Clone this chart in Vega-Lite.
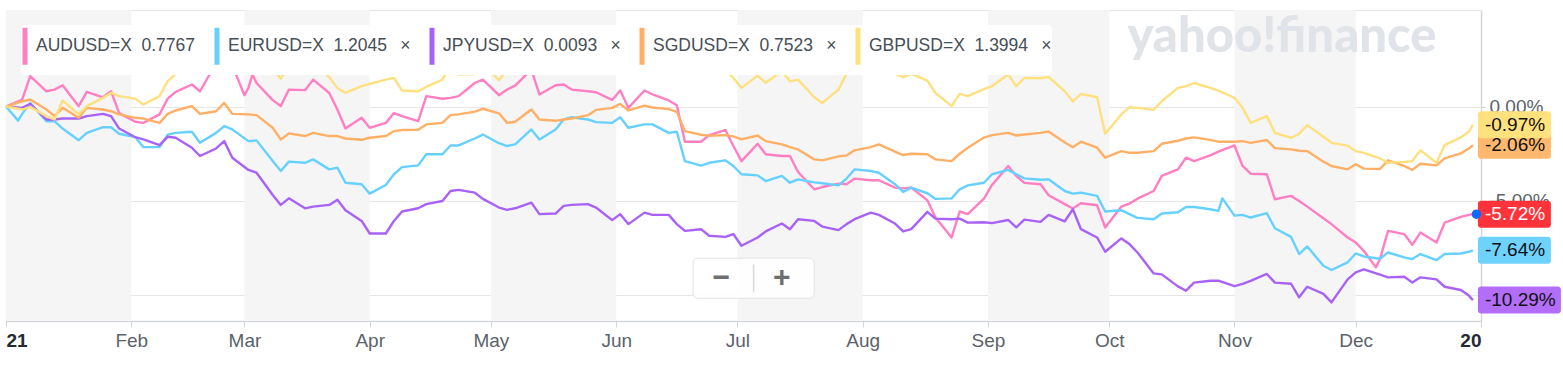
{
"$schema": "https://vega.github.io/schema/vega-lite/v6.json",
"width": 1475,
"height": 311,
"autosize": {"type": "none"},
"padding": {"left": 6, "top": 10, "right": 82, "bottom": 45},
"background": "#ffffff",
"config": {"view": {"stroke": "#e4e4e4"}, "font": "Liberation Sans", "legend": {"padding": 0}},
"datasets": {
"months": [
{"start": "2021-01-01", "end": "2021-02-01"},
{"start": "2021-03-01", "end": "2021-04-01"},
{"start": "2021-05-01", "end": "2021-06-01"},
{"start": "2021-07-01", "end": "2021-08-01"},
{"start": "2021-09-01", "end": "2021-10-01"},
{"start": "2021-11-01", "end": "2021-12-01"}
],
"fx": [
{"date":"2021-01-01","pair":"AUDUSD=X","pct":0},
{"date":"2021-01-05","pair":"AUDUSD=X","pct":0.37},
{"date":"2021-01-07","pair":"AUDUSD=X","pct":1.61},
{"date":"2021-01-11","pair":"AUDUSD=X","pct":0.81},
{"date":"2021-01-13","pair":"AUDUSD=X","pct":0.90},
{"date":"2021-01-15","pair":"AUDUSD=X","pct":1.13},
{"date":"2021-01-19","pair":"AUDUSD=X","pct":0.02},
{"date":"2021-01-21","pair":"AUDUSD=X","pct":0.78},
{"date":"2021-01-25","pair":"AUDUSD=X","pct":0.49},
{"date":"2021-01-27","pair":"AUDUSD=X","pct":0.81},
{"date":"2021-01-29","pair":"AUDUSD=X","pct":-0.35},
{"date":"2021-02-02","pair":"AUDUSD=X","pct":-0.81},
{"date":"2021-02-04","pair":"AUDUSD=X","pct":-0.87},
{"date":"2021-02-08","pair":"AUDUSD=X","pct":-0.42},
{"date":"2021-02-10","pair":"AUDUSD=X","pct":0.42},
{"date":"2021-02-12","pair":"AUDUSD=X","pct":0.78},
{"date":"2021-02-16","pair":"AUDUSD=X","pct":1.17},
{"date":"2021-02-18","pair":"AUDUSD=X","pct":0.81},
{"date":"2021-02-22","pair":"AUDUSD=X","pct":2.31},
{"date":"2021-02-24","pair":"AUDUSD=X","pct":3.2},
{"date":"2021-02-25","pair":"AUDUSD=X","pct":3.6},
{"date":"2021-02-26","pair":"AUDUSD=X","pct":2.2},
{"date":"2021-03-01","pair":"AUDUSD=X","pct":0.6},
{"date":"2021-03-02","pair":"AUDUSD=X","pct":1.0},
{"date":"2021-03-03","pair":"AUDUSD=X","pct":1.7},
{"date":"2021-03-04","pair":"AUDUSD=X","pct":1.25},
{"date":"2021-03-08","pair":"AUDUSD=X","pct":0.34},
{"date":"2021-03-10","pair":"AUDUSD=X","pct":0.02},
{"date":"2021-03-12","pair":"AUDUSD=X","pct":0.90},
{"date":"2021-03-16","pair":"AUDUSD=X","pct":0.87},
{"date":"2021-03-18","pair":"AUDUSD=X","pct":1.43},
{"date":"2021-03-22","pair":"AUDUSD=X","pct":0.72},
{"date":"2021-03-24","pair":"AUDUSD=X","pct":-0.16},
{"date":"2021-03-26","pair":"AUDUSD=X","pct":-1.17},
{"date":"2021-03-30","pair":"AUDUSD=X","pct":-0.60},
{"date":"2021-04-01","pair":"AUDUSD=X","pct":-1.13},
{"date":"2021-04-05","pair":"AUDUSD=X","pct":-0.87},
{"date":"2021-04-07","pair":"AUDUSD=X","pct":-0.35},
{"date":"2021-04-09","pair":"AUDUSD=X","pct":-0.51},
{"date":"2021-04-13","pair":"AUDUSD=X","pct":-0.78},
{"date":"2021-04-15","pair":"AUDUSD=X","pct":0.55},
{"date":"2021-04-19","pair":"AUDUSD=X","pct":0.41},
{"date":"2021-04-21","pair":"AUDUSD=X","pct":0.46},
{"date":"2021-04-23","pair":"AUDUSD=X","pct":0.55},
{"date":"2021-04-27","pair":"AUDUSD=X","pct":1.25},
{"date":"2021-04-29","pair":"AUDUSD=X","pct":1.43},
{"date":"2021-05-03","pair":"AUDUSD=X","pct":0.6},
{"date":"2021-05-05","pair":"AUDUSD=X","pct":0.90},
{"date":"2021-05-07","pair":"AUDUSD=X","pct":1.11},
{"date":"2021-05-11","pair":"AUDUSD=X","pct":1.96},
{"date":"2021-05-13","pair":"AUDUSD=X","pct":0.64},
{"date":"2021-05-17","pair":"AUDUSD=X","pct":1.13},
{"date":"2021-05-19","pair":"AUDUSD=X","pct":1.17},
{"date":"2021-05-21","pair":"AUDUSD=X","pct":0.90},
{"date":"2021-05-25","pair":"AUDUSD=X","pct":0.81},
{"date":"2021-05-27","pair":"AUDUSD=X","pct":0.76},
{"date":"2021-05-31","pair":"AUDUSD=X","pct":0.35},
{"date":"2021-06-02","pair":"AUDUSD=X","pct":0.85},
{"date":"2021-06-04","pair":"AUDUSD=X","pct":-0.07},
{"date":"2021-06-08","pair":"AUDUSD=X","pct":0.85},
{"date":"2021-06-10","pair":"AUDUSD=X","pct":0.64},
{"date":"2021-06-14","pair":"AUDUSD=X","pct":0.32},
{"date":"2021-06-16","pair":"AUDUSD=X","pct":0.07},
{"date":"2021-06-18","pair":"AUDUSD=X","pct":-1.87},
{"date":"2021-06-22","pair":"AUDUSD=X","pct":-1.87},
{"date":"2021-06-24","pair":"AUDUSD=X","pct":-1.52},
{"date":"2021-06-28","pair":"AUDUSD=X","pct":-1.25},
{"date":"2021-06-30","pair":"AUDUSD=X","pct":-2.10},
{"date":"2021-07-02","pair":"AUDUSD=X","pct":-2.90},
{"date":"2021-07-06","pair":"AUDUSD=X","pct":-1.98},
{"date":"2021-07-08","pair":"AUDUSD=X","pct":-2.54},
{"date":"2021-07-12","pair":"AUDUSD=X","pct":-2.63},
{"date":"2021-07-14","pair":"AUDUSD=X","pct":-2.63},
{"date":"2021-07-16","pair":"AUDUSD=X","pct":-3.48},
{"date":"2021-07-20","pair":"AUDUSD=X","pct":-4.40},
{"date":"2021-07-22","pair":"AUDUSD=X","pct":-4.28},
{"date":"2021-07-26","pair":"AUDUSD=X","pct":-4.10},
{"date":"2021-07-28","pair":"AUDUSD=X","pct":-4.13},
{"date":"2021-07-30","pair":"AUDUSD=X","pct":-3.83},
{"date":"2021-08-03","pair":"AUDUSD=X","pct":-3.92},
{"date":"2021-08-05","pair":"AUDUSD=X","pct":-3.92},
{"date":"2021-08-09","pair":"AUDUSD=X","pct":-4.31},
{"date":"2021-08-11","pair":"AUDUSD=X","pct":-4.35},
{"date":"2021-08-13","pair":"AUDUSD=X","pct":-4.31},
{"date":"2021-08-17","pair":"AUDUSD=X","pct":-4.98},
{"date":"2021-08-19","pair":"AUDUSD=X","pct":-5.9},
{"date":"2021-08-23","pair":"AUDUSD=X","pct":-6.96},
{"date":"2021-08-25","pair":"AUDUSD=X","pct":-5.58},
{"date":"2021-08-27","pair":"AUDUSD=X","pct":-5.72},
{"date":"2021-08-31","pair":"AUDUSD=X","pct":-4.9},
{"date":"2021-09-02","pair":"AUDUSD=X","pct":-4.17},
{"date":"2021-09-06","pair":"AUDUSD=X","pct":-3.16},
{"date":"2021-09-08","pair":"AUDUSD=X","pct":-3.69},
{"date":"2021-09-10","pair":"AUDUSD=X","pct":-4.06},
{"date":"2021-09-14","pair":"AUDUSD=X","pct":-4.13},
{"date":"2021-09-16","pair":"AUDUSD=X","pct":-4.72},
{"date":"2021-09-20","pair":"AUDUSD=X","pct":-5.19},
{"date":"2021-09-22","pair":"AUDUSD=X","pct":-5.42},
{"date":"2021-09-24","pair":"AUDUSD=X","pct":-5.14},
{"date":"2021-09-28","pair":"AUDUSD=X","pct":-5.25},
{"date":"2021-09-30","pair":"AUDUSD=X","pct":-6.43},
{"date":"2021-10-04","pair":"AUDUSD=X","pct":-5.32},
{"date":"2021-10-06","pair":"AUDUSD=X","pct":-5.16},
{"date":"2021-10-08","pair":"AUDUSD=X","pct":-4.90},
{"date":"2021-10-12","pair":"AUDUSD=X","pct":-4.49},
{"date":"2021-10-14","pair":"AUDUSD=X","pct":-3.69},
{"date":"2021-10-18","pair":"AUDUSD=X","pct":-3.34},
{"date":"2021-10-20","pair":"AUDUSD=X","pct":-2.72},
{"date":"2021-10-22","pair":"AUDUSD=X","pct":-2.90},
{"date":"2021-10-26","pair":"AUDUSD=X","pct":-2.60},
{"date":"2021-10-28","pair":"AUDUSD=X","pct":-2.40},
{"date":"2021-11-01","pair":"AUDUSD=X","pct":-2.07},
{"date":"2021-11-03","pair":"AUDUSD=X","pct":-3.16},
{"date":"2021-11-05","pair":"AUDUSD=X","pct":-3.57},
{"date":"2021-11-09","pair":"AUDUSD=X","pct":-3.60},
{"date":"2021-11-11","pair":"AUDUSD=X","pct":-4.93},
{"date":"2021-11-15","pair":"AUDUSD=X","pct":-4.75},
{"date":"2021-11-17","pair":"AUDUSD=X","pct":-5.02},
{"date":"2021-11-19","pair":"AUDUSD=X","pct":-5.32},
{"date":"2021-11-23","pair":"AUDUSD=X","pct":-5.94},
{"date":"2021-11-25","pair":"AUDUSD=X","pct":-6.25},
{"date":"2021-11-29","pair":"AUDUSD=X","pct":-6.96},
{"date":"2021-12-01","pair":"AUDUSD=X","pct":-7.23},
{"date":"2021-12-03","pair":"AUDUSD=X","pct":-7.67},
{"date":"2021-12-06","pair":"AUDUSD=X","pct":-8.55},
{"date":"2021-12-07","pair":"AUDUSD=X","pct":-8.11},
{"date":"2021-12-09","pair":"AUDUSD=X","pct":-6.61},
{"date":"2021-12-13","pair":"AUDUSD=X","pct":-6.78},
{"date":"2021-12-15","pair":"AUDUSD=X","pct":-7.35},
{"date":"2021-12-17","pair":"AUDUSD=X","pct":-6.70},
{"date":"2021-12-21","pair":"AUDUSD=X","pct":-7.23},
{"date":"2021-12-23","pair":"AUDUSD=X","pct":-6.17},
{"date":"2021-12-27","pair":"AUDUSD=X","pct":-5.87},
{"date":"2021-12-29","pair":"AUDUSD=X","pct":-5.76},
{"date":"2021-12-30","pair":"AUDUSD=X","pct":-5.72},
{"date":"2021-01-01","pair":"EURUSD=X","pct":0},
{"date":"2021-01-04","pair":"EURUSD=X","pct":-0.75},
{"date":"2021-01-05","pair":"EURUSD=X","pct":-0.39},
{"date":"2021-01-07","pair":"EURUSD=X","pct":0.19},
{"date":"2021-01-11","pair":"EURUSD=X","pct":-0.78},
{"date":"2021-01-13","pair":"EURUSD=X","pct":-0.78},
{"date":"2021-01-15","pair":"EURUSD=X","pct":-1.17},
{"date":"2021-01-19","pair":"EURUSD=X","pct":-1.79},
{"date":"2021-01-21","pair":"EURUSD=X","pct":-1.40},
{"date":"2021-01-25","pair":"EURUSD=X","pct":-1.10},
{"date":"2021-01-27","pair":"EURUSD=X","pct":-1.10},
{"date":"2021-01-29","pair":"EURUSD=X","pct":-1.45},
{"date":"2021-02-02","pair":"EURUSD=X","pct":-1.63},
{"date":"2021-02-04","pair":"EURUSD=X","pct":-2.16},
{"date":"2021-02-08","pair":"EURUSD=X","pct":-2.16},
{"date":"2021-02-10","pair":"EURUSD=X","pct":-1.49},
{"date":"2021-02-12","pair":"EURUSD=X","pct":-1.40},
{"date":"2021-02-16","pair":"EURUSD=X","pct":-1.34},
{"date":"2021-02-18","pair":"EURUSD=X","pct":-1.93},
{"date":"2021-02-22","pair":"EURUSD=X","pct":-1.40},
{"date":"2021-02-24","pair":"EURUSD=X","pct":-1.04},
{"date":"2021-02-26","pair":"EURUSD=X","pct":-1.22},
{"date":"2021-03-02","pair":"EURUSD=X","pct":-1.84},
{"date":"2021-03-04","pair":"EURUSD=X","pct":-1.80},
{"date":"2021-03-08","pair":"EURUSD=X","pct":-2.90},
{"date":"2021-03-10","pair":"EURUSD=X","pct":-3.43},
{"date":"2021-03-12","pair":"EURUSD=X","pct":-2.93},
{"date":"2021-03-16","pair":"EURUSD=X","pct":-2.99},
{"date":"2021-03-18","pair":"EURUSD=X","pct":-2.81},
{"date":"2021-03-22","pair":"EURUSD=X","pct":-3.34},
{"date":"2021-03-24","pair":"EURUSD=X","pct":-3.25},
{"date":"2021-03-26","pair":"EURUSD=X","pct":-4.05},
{"date":"2021-03-30","pair":"EURUSD=X","pct":-4.13},
{"date":"2021-04-01","pair":"EURUSD=X","pct":-4.63},
{"date":"2021-04-05","pair":"EURUSD=X","pct":-4.17},
{"date":"2021-04-07","pair":"EURUSD=X","pct":-3.60},
{"date":"2021-04-09","pair":"EURUSD=X","pct":-3.22},
{"date":"2021-04-13","pair":"EURUSD=X","pct":-3.13},
{"date":"2021-04-15","pair":"EURUSD=X","pct":-2.54},
{"date":"2021-04-19","pair":"EURUSD=X","pct":-2.54},
{"date":"2021-04-21","pair":"EURUSD=X","pct":-2.07},
{"date":"2021-04-23","pair":"EURUSD=X","pct":-2.07},
{"date":"2021-04-27","pair":"EURUSD=X","pct":-1.70},
{"date":"2021-04-29","pair":"EURUSD=X","pct":-1.49},
{"date":"2021-05-03","pair":"EURUSD=X","pct":-1.95},
{"date":"2021-05-05","pair":"EURUSD=X","pct":-2.10},
{"date":"2021-05-07","pair":"EURUSD=X","pct":-2.01},
{"date":"2021-05-11","pair":"EURUSD=X","pct":-1.22},
{"date":"2021-05-13","pair":"EURUSD=X","pct":-1.75},
{"date":"2021-05-17","pair":"EURUSD=X","pct":-1.22},
{"date":"2021-05-19","pair":"EURUSD=X","pct":-0.69},
{"date":"2021-05-21","pair":"EURUSD=X","pct":-0.57},
{"date":"2021-05-25","pair":"EURUSD=X","pct":-0.69},
{"date":"2021-05-27","pair":"EURUSD=X","pct":-0.83},
{"date":"2021-05-31","pair":"EURUSD=X","pct":-0.87},
{"date":"2021-06-02","pair":"EURUSD=X","pct":-0.57},
{"date":"2021-06-04","pair":"EURUSD=X","pct":-1.13},
{"date":"2021-06-08","pair":"EURUSD=X","pct":-0.95},
{"date":"2021-06-10","pair":"EURUSD=X","pct":-0.95},
{"date":"2021-06-14","pair":"EURUSD=X","pct":-1.40},
{"date":"2021-06-16","pair":"EURUSD=X","pct":-1.34},
{"date":"2021-06-18","pair":"EURUSD=X","pct":-2.90},
{"date":"2021-06-22","pair":"EURUSD=X","pct":-3.14},
{"date":"2021-06-24","pair":"EURUSD=X","pct":-2.99},
{"date":"2021-06-28","pair":"EURUSD=X","pct":-2.86},
{"date":"2021-06-30","pair":"EURUSD=X","pct":-3.16},
{"date":"2021-07-02","pair":"EURUSD=X","pct":-3.60},
{"date":"2021-07-06","pair":"EURUSD=X","pct":-3.66},
{"date":"2021-07-08","pair":"EURUSD=X","pct":-3.96},
{"date":"2021-07-12","pair":"EURUSD=X","pct":-3.69},
{"date":"2021-07-14","pair":"EURUSD=X","pct":-4.05},
{"date":"2021-07-16","pair":"EURUSD=X","pct":-3.87},
{"date":"2021-07-20","pair":"EURUSD=X","pct":-4.03},
{"date":"2021-07-22","pair":"EURUSD=X","pct":-4.08},
{"date":"2021-07-26","pair":"EURUSD=X","pct":-4.19},
{"date":"2021-07-28","pair":"EURUSD=X","pct":-3.83},
{"date":"2021-07-30","pair":"EURUSD=X","pct":-3.34},
{"date":"2021-08-03","pair":"EURUSD=X","pct":-3.43},
{"date":"2021-08-05","pair":"EURUSD=X","pct":-3.52},
{"date":"2021-08-09","pair":"EURUSD=X","pct":-4.13},
{"date":"2021-08-11","pair":"EURUSD=X","pct":-4.54},
{"date":"2021-08-13","pair":"EURUSD=X","pct":-4.31},
{"date":"2021-08-17","pair":"EURUSD=X","pct":-4.61},
{"date":"2021-08-19","pair":"EURUSD=X","pct":-4.91},
{"date":"2021-08-23","pair":"EURUSD=X","pct":-4.88},
{"date":"2021-08-25","pair":"EURUSD=X","pct":-4.40},
{"date":"2021-08-27","pair":"EURUSD=X","pct":-4.19},
{"date":"2021-08-31","pair":"EURUSD=X","pct":-4.05},
{"date":"2021-09-02","pair":"EURUSD=X","pct":-3.60},
{"date":"2021-09-06","pair":"EURUSD=X","pct":-3.37},
{"date":"2021-09-08","pair":"EURUSD=X","pct":-3.60},
{"date":"2021-09-10","pair":"EURUSD=X","pct":-3.82},
{"date":"2021-09-14","pair":"EURUSD=X","pct":-3.89},
{"date":"2021-09-16","pair":"EURUSD=X","pct":-3.87},
{"date":"2021-09-20","pair":"EURUSD=X","pct":-4.49},
{"date":"2021-09-22","pair":"EURUSD=X","pct":-4.63},
{"date":"2021-09-24","pair":"EURUSD=X","pct":-4.58},
{"date":"2021-09-28","pair":"EURUSD=X","pct":-4.75},
{"date":"2021-09-30","pair":"EURUSD=X","pct":-5.58},
{"date":"2021-10-04","pair":"EURUSD=X","pct":-5.51},
{"date":"2021-10-06","pair":"EURUSD=X","pct":-5.72},
{"date":"2021-10-08","pair":"EURUSD=X","pct":-5.92},
{"date":"2021-10-12","pair":"EURUSD=X","pct":-5.99},
{"date":"2021-10-14","pair":"EURUSD=X","pct":-5.69},
{"date":"2021-10-18","pair":"EURUSD=X","pct":-5.62},
{"date":"2021-10-20","pair":"EURUSD=X","pct":-5.34},
{"date":"2021-10-22","pair":"EURUSD=X","pct":-5.34},
{"date":"2021-10-26","pair":"EURUSD=X","pct":-5.46},
{"date":"2021-10-28","pair":"EURUSD=X","pct":-5.55},
{"date":"2021-10-29","pair":"EURUSD=X","pct":-4.88},
{"date":"2021-11-01","pair":"EURUSD=X","pct":-5.80},
{"date":"2021-11-03","pair":"EURUSD=X","pct":-5.76},
{"date":"2021-11-05","pair":"EURUSD=X","pct":-5.90},
{"date":"2021-11-09","pair":"EURUSD=X","pct":-5.67},
{"date":"2021-11-11","pair":"EURUSD=X","pct":-6.47},
{"date":"2021-11-15","pair":"EURUSD=X","pct":-6.93},
{"date":"2021-11-17","pair":"EURUSD=X","pct":-7.84},
{"date":"2021-11-19","pair":"EURUSD=X","pct":-7.44},
{"date":"2021-11-23","pair":"EURUSD=X","pct":-8.46},
{"date":"2021-11-25","pair":"EURUSD=X","pct":-8.69},
{"date":"2021-11-29","pair":"EURUSD=X","pct":-8.28},
{"date":"2021-12-01","pair":"EURUSD=X","pct":-7.81},
{"date":"2021-12-03","pair":"EURUSD=X","pct":-7.97},
{"date":"2021-12-07","pair":"EURUSD=X","pct":-8.09},
{"date":"2021-12-09","pair":"EURUSD=X","pct":-7.76},
{"date":"2021-12-13","pair":"EURUSD=X","pct":-8.02},
{"date":"2021-12-15","pair":"EURUSD=X","pct":-8.11},
{"date":"2021-12-17","pair":"EURUSD=X","pct":-7.84},
{"date":"2021-12-21","pair":"EURUSD=X","pct":-8.16},
{"date":"2021-12-23","pair":"EURUSD=X","pct":-7.84},
{"date":"2021-12-27","pair":"EURUSD=X","pct":-7.81},
{"date":"2021-12-29","pair":"EURUSD=X","pct":-7.72},
{"date":"2021-12-30","pair":"EURUSD=X","pct":-7.64},
{"date":"2021-01-01","pair":"JPYUSD=X","pct":0},
{"date":"2021-01-05","pair":"JPYUSD=X","pct":-0.07},
{"date":"2021-01-07","pair":"JPYUSD=X","pct":0.14},
{"date":"2021-01-11","pair":"JPYUSD=X","pct":-0.69},
{"date":"2021-01-13","pair":"JPYUSD=X","pct":-0.69},
{"date":"2021-01-15","pair":"JPYUSD=X","pct":-0.64},
{"date":"2021-01-19","pair":"JPYUSD=X","pct":-0.64},
{"date":"2021-01-21","pair":"JPYUSD=X","pct":-0.51},
{"date":"2021-01-25","pair":"JPYUSD=X","pct":-0.39},
{"date":"2021-01-27","pair":"JPYUSD=X","pct":-0.51},
{"date":"2021-01-29","pair":"JPYUSD=X","pct":-1.17},
{"date":"2021-02-02","pair":"JPYUSD=X","pct":-1.63},
{"date":"2021-02-04","pair":"JPYUSD=X","pct":-1.75},
{"date":"2021-02-08","pair":"JPYUSD=X","pct":-2.05},
{"date":"2021-02-10","pair":"JPYUSD=X","pct":-1.61},
{"date":"2021-02-12","pair":"JPYUSD=X","pct":-1.66},
{"date":"2021-02-16","pair":"JPYUSD=X","pct":-2.19},
{"date":"2021-02-18","pair":"JPYUSD=X","pct":-2.63},
{"date":"2021-02-22","pair":"JPYUSD=X","pct":-2.23},
{"date":"2021-02-24","pair":"JPYUSD=X","pct":-1.84},
{"date":"2021-02-26","pair":"JPYUSD=X","pct":-2.72},
{"date":"2021-03-02","pair":"JPYUSD=X","pct":-3.37},
{"date":"2021-03-04","pair":"JPYUSD=X","pct":-3.52},
{"date":"2021-03-08","pair":"JPYUSD=X","pct":-4.70},
{"date":"2021-03-10","pair":"JPYUSD=X","pct":-5.23},
{"date":"2021-03-12","pair":"JPYUSD=X","pct":-4.88},
{"date":"2021-03-16","pair":"JPYUSD=X","pct":-5.41},
{"date":"2021-03-18","pair":"JPYUSD=X","pct":-5.32},
{"date":"2021-03-22","pair":"JPYUSD=X","pct":-5.23},
{"date":"2021-03-24","pair":"JPYUSD=X","pct":-4.96},
{"date":"2021-03-26","pair":"JPYUSD=X","pct":-5.51},
{"date":"2021-03-30","pair":"JPYUSD=X","pct":-6.08},
{"date":"2021-04-01","pair":"JPYUSD=X","pct":-6.75},
{"date":"2021-04-05","pair":"JPYUSD=X","pct":-6.75},
{"date":"2021-04-07","pair":"JPYUSD=X","pct":-6.08},
{"date":"2021-04-09","pair":"JPYUSD=X","pct":-5.58},
{"date":"2021-04-13","pair":"JPYUSD=X","pct":-5.41},
{"date":"2021-04-15","pair":"JPYUSD=X","pct":-5.19},
{"date":"2021-04-19","pair":"JPYUSD=X","pct":-5.02},
{"date":"2021-04-21","pair":"JPYUSD=X","pct":-4.49},
{"date":"2021-04-23","pair":"JPYUSD=X","pct":-4.43},
{"date":"2021-04-27","pair":"JPYUSD=X","pct":-4.58},
{"date":"2021-04-29","pair":"JPYUSD=X","pct":-4.91},
{"date":"2021-05-03","pair":"JPYUSD=X","pct":-5.37},
{"date":"2021-05-05","pair":"JPYUSD=X","pct":-5.49},
{"date":"2021-05-07","pair":"JPYUSD=X","pct":-5.41},
{"date":"2021-05-11","pair":"JPYUSD=X","pct":-5.11},
{"date":"2021-05-13","pair":"JPYUSD=X","pct":-5.72},
{"date":"2021-05-17","pair":"JPYUSD=X","pct":-5.69},
{"date":"2021-05-19","pair":"JPYUSD=X","pct":-5.28},
{"date":"2021-05-21","pair":"JPYUSD=X","pct":-5.23},
{"date":"2021-05-25","pair":"JPYUSD=X","pct":-5.19},
{"date":"2021-05-27","pair":"JPYUSD=X","pct":-5.37},
{"date":"2021-05-31","pair":"JPYUSD=X","pct":-6.04},
{"date":"2021-06-02","pair":"JPYUSD=X","pct":-5.72},
{"date":"2021-06-04","pair":"JPYUSD=X","pct":-6.25},
{"date":"2021-06-08","pair":"JPYUSD=X","pct":-5.64},
{"date":"2021-06-10","pair":"JPYUSD=X","pct":-5.76},
{"date":"2021-06-14","pair":"JPYUSD=X","pct":-5.76},
{"date":"2021-06-16","pair":"JPYUSD=X","pct":-6.25},
{"date":"2021-06-18","pair":"JPYUSD=X","pct":-6.61},
{"date":"2021-06-22","pair":"JPYUSD=X","pct":-6.52},
{"date":"2021-06-24","pair":"JPYUSD=X","pct":-6.87},
{"date":"2021-06-28","pair":"JPYUSD=X","pct":-6.93},
{"date":"2021-06-30","pair":"JPYUSD=X","pct":-6.78},
{"date":"2021-07-02","pair":"JPYUSD=X","pct":-7.40},
{"date":"2021-07-06","pair":"JPYUSD=X","pct":-6.96},
{"date":"2021-07-08","pair":"JPYUSD=X","pct":-6.64},
{"date":"2021-07-12","pair":"JPYUSD=X","pct":-6.22},
{"date":"2021-07-14","pair":"JPYUSD=X","pct":-6.52},
{"date":"2021-07-16","pair":"JPYUSD=X","pct":-5.99},
{"date":"2021-07-20","pair":"JPYUSD=X","pct":-6.08},
{"date":"2021-07-22","pair":"JPYUSD=X","pct":-6.38},
{"date":"2021-07-26","pair":"JPYUSD=X","pct":-6.57},
{"date":"2021-07-28","pair":"JPYUSD=X","pct":-6.25},
{"date":"2021-07-30","pair":"JPYUSD=X","pct":-5.99},
{"date":"2021-08-03","pair":"JPYUSD=X","pct":-5.64},
{"date":"2021-08-05","pair":"JPYUSD=X","pct":-5.76},
{"date":"2021-08-09","pair":"JPYUSD=X","pct":-6.22},
{"date":"2021-08-11","pair":"JPYUSD=X","pct":-6.64},
{"date":"2021-08-13","pair":"JPYUSD=X","pct":-6.52},
{"date":"2021-08-17","pair":"JPYUSD=X","pct":-5.60},
{"date":"2021-08-19","pair":"JPYUSD=X","pct":-5.96},
{"date":"2021-08-23","pair":"JPYUSD=X","pct":-5.99},
{"date":"2021-08-25","pair":"JPYUSD=X","pct":-5.96},
{"date":"2021-08-27","pair":"JPYUSD=X","pct":-6.17},
{"date":"2021-08-31","pair":"JPYUSD=X","pct":-6.15},
{"date":"2021-09-02","pair":"JPYUSD=X","pct":-6.20},
{"date":"2021-09-06","pair":"JPYUSD=X","pct":-6.03},
{"date":"2021-09-08","pair":"JPYUSD=X","pct":-6.43},
{"date":"2021-09-10","pair":"JPYUSD=X","pct":-6.01},
{"date":"2021-09-14","pair":"JPYUSD=X","pct":-6.13},
{"date":"2021-09-16","pair":"JPYUSD=X","pct":-5.76},
{"date":"2021-09-20","pair":"JPYUSD=X","pct":-6.10},
{"date":"2021-09-22","pair":"JPYUSD=X","pct":-5.46},
{"date":"2021-09-24","pair":"JPYUSD=X","pct":-6.52},
{"date":"2021-09-28","pair":"JPYUSD=X","pct":-6.96},
{"date":"2021-09-30","pair":"JPYUSD=X","pct":-7.72},
{"date":"2021-10-04","pair":"JPYUSD=X","pct":-7.01},
{"date":"2021-10-06","pair":"JPYUSD=X","pct":-7.31},
{"date":"2021-10-08","pair":"JPYUSD=X","pct":-7.76},
{"date":"2021-10-12","pair":"JPYUSD=X","pct":-8.87},
{"date":"2021-10-14","pair":"JPYUSD=X","pct":-8.92},
{"date":"2021-10-18","pair":"JPYUSD=X","pct":-9.56},
{"date":"2021-10-20","pair":"JPYUSD=X","pct":-9.79},
{"date":"2021-10-22","pair":"JPYUSD=X","pct":-9.36},
{"date":"2021-10-26","pair":"JPYUSD=X","pct":-9.26},
{"date":"2021-10-28","pair":"JPYUSD=X","pct":-9.26},
{"date":"2021-11-01","pair":"JPYUSD=X","pct":-9.55},
{"date":"2021-11-03","pair":"JPYUSD=X","pct":-9.43},
{"date":"2021-11-05","pair":"JPYUSD=X","pct":-9.27},
{"date":"2021-11-09","pair":"JPYUSD=X","pct":-8.90},
{"date":"2021-11-11","pair":"JPYUSD=X","pct":-9.36},
{"date":"2021-11-15","pair":"JPYUSD=X","pct":-9.42},
{"date":"2021-11-17","pair":"JPYUSD=X","pct":-10.14},
{"date":"2021-11-19","pair":"JPYUSD=X","pct":-9.58},
{"date":"2021-11-23","pair":"JPYUSD=X","pct":-9.96},
{"date":"2021-11-25","pair":"JPYUSD=X","pct":-10.41},
{"date":"2021-11-29","pair":"JPYUSD=X","pct":-9.19},
{"date":"2021-12-01","pair":"JPYUSD=X","pct":-8.82},
{"date":"2021-12-03","pair":"JPYUSD=X","pct":-8.66},
{"date":"2021-12-07","pair":"JPYUSD=X","pct":-8.94},
{"date":"2021-12-09","pair":"JPYUSD=X","pct":-9.08},
{"date":"2021-12-13","pair":"JPYUSD=X","pct":-9.05},
{"date":"2021-12-15","pair":"JPYUSD=X","pct":-9.35},
{"date":"2021-12-17","pair":"JPYUSD=X","pct":-9.08},
{"date":"2021-12-21","pair":"JPYUSD=X","pct":-9.19},
{"date":"2021-12-23","pair":"JPYUSD=X","pct":-9.58},
{"date":"2021-12-27","pair":"JPYUSD=X","pct":-9.75},
{"date":"2021-12-29","pair":"JPYUSD=X","pct":-10.05},
{"date":"2021-12-30","pair":"JPYUSD=X","pct":-10.29},
{"date":"2021-01-01","pair":"SGDUSD=X","pct":0},
{"date":"2021-01-05","pair":"SGDUSD=X","pct":0.28},
{"date":"2021-01-07","pair":"SGDUSD=X","pct":0.37},
{"date":"2021-01-11","pair":"SGDUSD=X","pct":-0.16},
{"date":"2021-01-13","pair":"SGDUSD=X","pct":-0.51},
{"date":"2021-01-15","pair":"SGDUSD=X","pct":-0.07},
{"date":"2021-01-19","pair":"SGDUSD=X","pct":-0.60},
{"date":"2021-01-21","pair":"SGDUSD=X","pct":-0.07},
{"date":"2021-01-25","pair":"SGDUSD=X","pct":-0.16},
{"date":"2021-01-27","pair":"SGDUSD=X","pct":-0.25},
{"date":"2021-01-29","pair":"SGDUSD=X","pct":-0.42},
{"date":"2021-02-02","pair":"SGDUSD=X","pct":-0.60},
{"date":"2021-02-04","pair":"SGDUSD=X","pct":-0.64},
{"date":"2021-02-08","pair":"SGDUSD=X","pct":-0.87},
{"date":"2021-02-10","pair":"SGDUSD=X","pct":-0.39},
{"date":"2021-02-12","pair":"SGDUSD=X","pct":-0.21},
{"date":"2021-02-16","pair":"SGDUSD=X","pct":0.02},
{"date":"2021-02-18","pair":"SGDUSD=X","pct":-0.39},
{"date":"2021-02-22","pair":"SGDUSD=X","pct":-0.25},
{"date":"2021-02-24","pair":"SGDUSD=X","pct":0.19},
{"date":"2021-02-26","pair":"SGDUSD=X","pct":-0.39},
{"date":"2021-03-02","pair":"SGDUSD=X","pct":-0.42},
{"date":"2021-03-04","pair":"SGDUSD=X","pct":-0.46},
{"date":"2021-03-08","pair":"SGDUSD=X","pct":-1.13},
{"date":"2021-03-10","pair":"SGDUSD=X","pct":-1.75},
{"date":"2021-03-12","pair":"SGDUSD=X","pct":-1.43},
{"date":"2021-03-16","pair":"SGDUSD=X","pct":-1.57},
{"date":"2021-03-18","pair":"SGDUSD=X","pct":-1.40},
{"date":"2021-03-22","pair":"SGDUSD=X","pct":-1.57},
{"date":"2021-03-24","pair":"SGDUSD=X","pct":-1.57},
{"date":"2021-03-26","pair":"SGDUSD=X","pct":-1.70},
{"date":"2021-03-30","pair":"SGDUSD=X","pct":-1.77},
{"date":"2021-04-01","pair":"SGDUSD=X","pct":-1.66},
{"date":"2021-04-05","pair":"SGDUSD=X","pct":-1.57},
{"date":"2021-04-07","pair":"SGDUSD=X","pct":-1.31},
{"date":"2021-04-09","pair":"SGDUSD=X","pct":-1.25},
{"date":"2021-04-13","pair":"SGDUSD=X","pct":-1.24},
{"date":"2021-04-15","pair":"SGDUSD=X","pct":-0.95},
{"date":"2021-04-19","pair":"SGDUSD=X","pct":-0.87},
{"date":"2021-04-21","pair":"SGDUSD=X","pct":-0.46},
{"date":"2021-04-23","pair":"SGDUSD=X","pct":-0.42},
{"date":"2021-04-27","pair":"SGDUSD=X","pct":-0.27},
{"date":"2021-04-29","pair":"SGDUSD=X","pct":-0.12},
{"date":"2021-05-03","pair":"SGDUSD=X","pct":-0.36},
{"date":"2021-05-05","pair":"SGDUSD=X","pct":-0.87},
{"date":"2021-05-07","pair":"SGDUSD=X","pct":-0.81},
{"date":"2021-05-11","pair":"SGDUSD=X","pct":-0.16},
{"date":"2021-05-13","pair":"SGDUSD=X","pct":-0.69},
{"date":"2021-05-17","pair":"SGDUSD=X","pct":-0.76},
{"date":"2021-05-19","pair":"SGDUSD=X","pct":-0.69},
{"date":"2021-05-21","pair":"SGDUSD=X","pct":-0.64},
{"date":"2021-05-25","pair":"SGDUSD=X","pct":-0.46},
{"date":"2021-05-27","pair":"SGDUSD=X","pct":-0.18},
{"date":"2021-05-31","pair":"SGDUSD=X","pct":-0.07},
{"date":"2021-06-02","pair":"SGDUSD=X","pct":0.14},
{"date":"2021-06-04","pair":"SGDUSD=X","pct":-0.21},
{"date":"2021-06-08","pair":"SGDUSD=X","pct":0.05},
{"date":"2021-06-10","pair":"SGDUSD=X","pct":-0.05},
{"date":"2021-06-14","pair":"SGDUSD=X","pct":-0.14},
{"date":"2021-06-16","pair":"SGDUSD=X","pct":-0.28},
{"date":"2021-06-18","pair":"SGDUSD=X","pct":-1.31},
{"date":"2021-06-22","pair":"SGDUSD=X","pct":-1.50},
{"date":"2021-06-24","pair":"SGDUSD=X","pct":-1.55},
{"date":"2021-06-28","pair":"SGDUSD=X","pct":-1.52},
{"date":"2021-06-30","pair":"SGDUSD=X","pct":-1.59},
{"date":"2021-07-02","pair":"SGDUSD=X","pct":-1.75},
{"date":"2021-07-06","pair":"SGDUSD=X","pct":-1.54},
{"date":"2021-07-08","pair":"SGDUSD=X","pct":-1.84},
{"date":"2021-07-12","pair":"SGDUSD=X","pct":-2.01},
{"date":"2021-07-14","pair":"SGDUSD=X","pct":-2.16},
{"date":"2021-07-16","pair":"SGDUSD=X","pct":-2.28},
{"date":"2021-07-20","pair":"SGDUSD=X","pct":-2.81},
{"date":"2021-07-22","pair":"SGDUSD=X","pct":-2.86},
{"date":"2021-07-26","pair":"SGDUSD=X","pct":-2.65},
{"date":"2021-07-28","pair":"SGDUSD=X","pct":-2.60},
{"date":"2021-07-30","pair":"SGDUSD=X","pct":-2.33},
{"date":"2021-08-03","pair":"SGDUSD=X","pct":-2.16},
{"date":"2021-08-05","pair":"SGDUSD=X","pct":-2.01},
{"date":"2021-08-09","pair":"SGDUSD=X","pct":-2.40},
{"date":"2021-08-11","pair":"SGDUSD=X","pct":-2.58},
{"date":"2021-08-13","pair":"SGDUSD=X","pct":-2.51},
{"date":"2021-08-17","pair":"SGDUSD=X","pct":-2.54},
{"date":"2021-08-19","pair":"SGDUSD=X","pct":-2.81},
{"date":"2021-08-23","pair":"SGDUSD=X","pct":-2.90},
{"date":"2021-08-25","pair":"SGDUSD=X","pct":-2.51},
{"date":"2021-08-27","pair":"SGDUSD=X","pct":-2.19},
{"date":"2021-08-31","pair":"SGDUSD=X","pct":-1.65},
{"date":"2021-09-02","pair":"SGDUSD=X","pct":-1.52},
{"date":"2021-09-06","pair":"SGDUSD=X","pct":-1.40},
{"date":"2021-09-08","pair":"SGDUSD=X","pct":-1.54},
{"date":"2021-09-10","pair":"SGDUSD=X","pct":-1.49},
{"date":"2021-09-14","pair":"SGDUSD=X","pct":-1.40},
{"date":"2021-09-16","pair":"SGDUSD=X","pct":-1.33},
{"date":"2021-09-20","pair":"SGDUSD=X","pct":-1.91},
{"date":"2021-09-22","pair":"SGDUSD=X","pct":-2.17},
{"date":"2021-09-24","pair":"SGDUSD=X","pct":-1.87},
{"date":"2021-09-28","pair":"SGDUSD=X","pct":-2.19},
{"date":"2021-09-30","pair":"SGDUSD=X","pct":-2.72},
{"date":"2021-10-04","pair":"SGDUSD=X","pct":-2.37},
{"date":"2021-10-06","pair":"SGDUSD=X","pct":-2.46},
{"date":"2021-10-08","pair":"SGDUSD=X","pct":-2.46},
{"date":"2021-10-12","pair":"SGDUSD=X","pct":-2.37},
{"date":"2021-10-14","pair":"SGDUSD=X","pct":-1.98},
{"date":"2021-10-18","pair":"SGDUSD=X","pct":-1.82},
{"date":"2021-10-20","pair":"SGDUSD=X","pct":-1.70},
{"date":"2021-10-22","pair":"SGDUSD=X","pct":-1.64},
{"date":"2021-10-26","pair":"SGDUSD=X","pct":-1.77},
{"date":"2021-10-28","pair":"SGDUSD=X","pct":-1.87},
{"date":"2021-11-01","pair":"SGDUSD=X","pct":-1.87},
{"date":"2021-11-03","pair":"SGDUSD=X","pct":-1.84},
{"date":"2021-11-05","pair":"SGDUSD=X","pct":-1.93},
{"date":"2021-11-09","pair":"SGDUSD=X","pct":-1.78},
{"date":"2021-11-11","pair":"SGDUSD=X","pct":-2.21},
{"date":"2021-11-15","pair":"SGDUSD=X","pct":-2.28},
{"date":"2021-11-17","pair":"SGDUSD=X","pct":-2.35},
{"date":"2021-11-19","pair":"SGDUSD=X","pct":-2.37},
{"date":"2021-11-23","pair":"SGDUSD=X","pct":-2.93},
{"date":"2021-11-25","pair":"SGDUSD=X","pct":-3.16},
{"date":"2021-11-29","pair":"SGDUSD=X","pct":-3.34},
{"date":"2021-12-01","pair":"SGDUSD=X","pct":-3.07},
{"date":"2021-12-03","pair":"SGDUSD=X","pct":-3.30},
{"date":"2021-12-07","pair":"SGDUSD=X","pct":-3.32},
{"date":"2021-12-09","pair":"SGDUSD=X","pct":-2.86},
{"date":"2021-12-13","pair":"SGDUSD=X","pct":-3.16},
{"date":"2021-12-15","pair":"SGDUSD=X","pct":-3.37},
{"date":"2021-12-17","pair":"SGDUSD=X","pct":-3.04},
{"date":"2021-12-21","pair":"SGDUSD=X","pct":-3.13},
{"date":"2021-12-23","pair":"SGDUSD=X","pct":-2.76},
{"date":"2021-12-27","pair":"SGDUSD=X","pct":-2.49},
{"date":"2021-12-29","pair":"SGDUSD=X","pct":-2.23},
{"date":"2021-12-30","pair":"SGDUSD=X","pct":-2.06},
{"date":"2021-01-01","pair":"GBPUSD=X","pct":0},
{"date":"2021-01-05","pair":"GBPUSD=X","pct":-0.16},
{"date":"2021-01-07","pair":"GBPUSD=X","pct":-0.02},
{"date":"2021-01-11","pair":"GBPUSD=X","pct":-0.51},
{"date":"2021-01-13","pair":"GBPUSD=X","pct":-0.69},
{"date":"2021-01-15","pair":"GBPUSD=X","pct":0.32},
{"date":"2021-01-19","pair":"GBPUSD=X","pct":-0.42},
{"date":"2021-01-21","pair":"GBPUSD=X","pct":0.02},
{"date":"2021-01-25","pair":"GBPUSD=X","pct":0.46},
{"date":"2021-01-27","pair":"GBPUSD=X","pct":0.72},
{"date":"2021-01-29","pair":"GBPUSD=X","pct":0.55},
{"date":"2021-02-02","pair":"GBPUSD=X","pct":0.42},
{"date":"2021-02-04","pair":"GBPUSD=X","pct":0.11},
{"date":"2021-02-08","pair":"GBPUSD=X","pct":0.55},
{"date":"2021-02-10","pair":"GBPUSD=X","pct":1.34},
{"date":"2021-02-12","pair":"GBPUSD=X","pct":1.73},
{"date":"2021-02-16","pair":"GBPUSD=X","pct":2.01},
{"date":"2021-02-18","pair":"GBPUSD=X","pct":1.87},
{"date":"2021-02-22","pair":"GBPUSD=X","pct":2.95},
{"date":"2021-02-24","pair":"GBPUSD=X","pct":3.6},
{"date":"2021-02-25","pair":"GBPUSD=X","pct":3.9},
{"date":"2021-02-26","pair":"GBPUSD=X","pct":3.2},
{"date":"2021-03-02","pair":"GBPUSD=X","pct":2.55},
{"date":"2021-03-04","pair":"GBPUSD=X","pct":2.35},
{"date":"2021-03-08","pair":"GBPUSD=X","pct":2.01},
{"date":"2021-03-10","pair":"GBPUSD=X","pct":1.48},
{"date":"2021-03-12","pair":"GBPUSD=X","pct":2.14},
{"date":"2021-03-16","pair":"GBPUSD=X","pct":2.14},
{"date":"2021-03-18","pair":"GBPUSD=X","pct":2.40},
{"date":"2021-03-22","pair":"GBPUSD=X","pct":1.55},
{"date":"2021-03-24","pair":"GBPUSD=X","pct":0.99},
{"date":"2021-03-26","pair":"GBPUSD=X","pct":0.72},
{"date":"2021-03-30","pair":"GBPUSD=X","pct":1.08},
{"date":"2021-04-01","pair":"GBPUSD=X","pct":1.20},
{"date":"2021-04-05","pair":"GBPUSD=X","pct":1.43},
{"date":"2021-04-07","pair":"GBPUSD=X","pct":1.52},
{"date":"2021-04-09","pair":"GBPUSD=X","pct":0.85},
{"date":"2021-04-13","pair":"GBPUSD=X","pct":0.81},
{"date":"2021-04-15","pair":"GBPUSD=X","pct":1.04},
{"date":"2021-04-19","pair":"GBPUSD=X","pct":1.43},
{"date":"2021-04-21","pair":"GBPUSD=X","pct":2.26},
{"date":"2021-04-23","pair":"GBPUSD=X","pct":1.70},
{"date":"2021-04-27","pair":"GBPUSD=X","pct":1.73},
{"date":"2021-04-29","pair":"GBPUSD=X","pct":2.23},
{"date":"2021-05-03","pair":"GBPUSD=X","pct":1.40},
{"date":"2021-05-05","pair":"GBPUSD=X","pct":1.96},
{"date":"2021-05-07","pair":"GBPUSD=X","pct":2.01},
{"date":"2021-05-11","pair":"GBPUSD=X","pct":2.9},
{"date":"2021-05-13","pair":"GBPUSD=X","pct":2.7},
{"date":"2021-05-17","pair":"GBPUSD=X","pct":3.3},
{"date":"2021-05-19","pair":"GBPUSD=X","pct":3.5},
{"date":"2021-05-21","pair":"GBPUSD=X","pct":3.3},
{"date":"2021-05-25","pair":"GBPUSD=X","pct":3.4},
{"date":"2021-05-27","pair":"GBPUSD=X","pct":3.5},
{"date":"2021-05-31","pair":"GBPUSD=X","pct":3.8},
{"date":"2021-06-02","pair":"GBPUSD=X","pct":4.0},
{"date":"2021-06-04","pair":"GBPUSD=X","pct":4.0},
{"date":"2021-06-08","pair":"GBPUSD=X","pct":3.6},
{"date":"2021-06-10","pair":"GBPUSD=X","pct":3.4},
{"date":"2021-06-14","pair":"GBPUSD=X","pct":3.5},
{"date":"2021-06-16","pair":"GBPUSD=X","pct":3.0},
{"date":"2021-06-18","pair":"GBPUSD=X","pct":2.31},
{"date":"2021-06-22","pair":"GBPUSD=X","pct":1.96},
{"date":"2021-06-24","pair":"GBPUSD=X","pct":2.37},
{"date":"2021-06-28","pair":"GBPUSD=X","pct":1.91},
{"date":"2021-06-30","pair":"GBPUSD=X","pct":1.52},
{"date":"2021-07-02","pair":"GBPUSD=X","pct":0.99},
{"date":"2021-07-06","pair":"GBPUSD=X","pct":1.64},
{"date":"2021-07-08","pair":"GBPUSD=X","pct":1.26},
{"date":"2021-07-12","pair":"GBPUSD=X","pct":1.87},
{"date":"2021-07-14","pair":"GBPUSD=X","pct":1.34},
{"date":"2021-07-16","pair":"GBPUSD=X","pct":1.43},
{"date":"2021-07-20","pair":"GBPUSD=X","pct":0.49},
{"date":"2021-07-22","pair":"GBPUSD=X","pct":0.19},
{"date":"2021-07-26","pair":"GBPUSD=X","pct":0.90},
{"date":"2021-07-28","pair":"GBPUSD=X","pct":1.75},
{"date":"2021-07-30","pair":"GBPUSD=X","pct":2.31},
{"date":"2021-08-03","pair":"GBPUSD=X","pct":2.01},
{"date":"2021-08-05","pair":"GBPUSD=X","pct":2.00},
{"date":"2021-08-09","pair":"GBPUSD=X","pct":1.75},
{"date":"2021-08-11","pair":"GBPUSD=X","pct":1.55},
{"date":"2021-08-13","pair":"GBPUSD=X","pct":1.75},
{"date":"2021-08-17","pair":"GBPUSD=X","pct":1.38},
{"date":"2021-08-19","pair":"GBPUSD=X","pct":0.72},
{"date":"2021-08-23","pair":"GBPUSD=X","pct":0.02},
{"date":"2021-08-25","pair":"GBPUSD=X","pct":0.67},
{"date":"2021-08-27","pair":"GBPUSD=X","pct":0.55},
{"date":"2021-08-31","pair":"GBPUSD=X","pct":0.92},
{"date":"2021-09-02","pair":"GBPUSD=X","pct":1.08},
{"date":"2021-09-06","pair":"GBPUSD=X","pct":1.70},
{"date":"2021-09-08","pair":"GBPUSD=X","pct":1.08},
{"date":"2021-09-10","pair":"GBPUSD=X","pct":1.52},
{"date":"2021-09-14","pair":"GBPUSD=X","pct":1.50},
{"date":"2021-09-16","pair":"GBPUSD=X","pct":1.57},
{"date":"2021-09-20","pair":"GBPUSD=X","pct":0.81},
{"date":"2021-09-22","pair":"GBPUSD=X","pct":0.27},
{"date":"2021-09-24","pair":"GBPUSD=X","pct":0.67},
{"date":"2021-09-28","pair":"GBPUSD=X","pct":0.49},
{"date":"2021-09-30","pair":"GBPUSD=X","pct":-1.45},
{"date":"2021-10-04","pair":"GBPUSD=X","pct":-0.42},
{"date":"2021-10-06","pair":"GBPUSD=X","pct":-0.04},
{"date":"2021-10-08","pair":"GBPUSD=X","pct":-0.07},
{"date":"2021-10-12","pair":"GBPUSD=X","pct":-0.18},
{"date":"2021-10-14","pair":"GBPUSD=X","pct":0.28},
{"date":"2021-10-18","pair":"GBPUSD=X","pct":0.99},
{"date":"2021-10-20","pair":"GBPUSD=X","pct":1.08},
{"date":"2021-10-22","pair":"GBPUSD=X","pct":1.25},
{"date":"2021-10-26","pair":"GBPUSD=X","pct":0.99},
{"date":"2021-10-28","pair":"GBPUSD=X","pct":0.85},
{"date":"2021-11-01","pair":"GBPUSD=X","pct":0.46},
{"date":"2021-11-03","pair":"GBPUSD=X","pct":-0.07},
{"date":"2021-11-05","pair":"GBPUSD=X","pct":-0.87},
{"date":"2021-11-09","pair":"GBPUSD=X","pct":-0.51},
{"date":"2021-11-11","pair":"GBPUSD=X","pct":-1.40},
{"date":"2021-11-15","pair":"GBPUSD=X","pct":-1.66},
{"date":"2021-11-17","pair":"GBPUSD=X","pct":-1.45},
{"date":"2021-11-19","pair":"GBPUSD=X","pct":-0.99},
{"date":"2021-11-23","pair":"GBPUSD=X","pct":-1.61},
{"date":"2021-11-25","pair":"GBPUSD=X","pct":-1.93},
{"date":"2021-11-29","pair":"GBPUSD=X","pct":-2.08},
{"date":"2021-12-01","pair":"GBPUSD=X","pct":-2.37},
{"date":"2021-12-03","pair":"GBPUSD=X","pct":-2.46},
{"date":"2021-12-07","pair":"GBPUSD=X","pct":-2.76},
{"date":"2021-12-09","pair":"GBPUSD=X","pct":-2.99},
{"date":"2021-12-13","pair":"GBPUSD=X","pct":-2.95},
{"date":"2021-12-15","pair":"GBPUSD=X","pct":-2.90},
{"date":"2021-12-17","pair":"GBPUSD=X","pct":-2.33},
{"date":"2021-12-21","pair":"GBPUSD=X","pct":-2.99},
{"date":"2021-12-23","pair":"GBPUSD=X","pct":-2.05},
{"date":"2021-12-27","pair":"GBPUSD=X","pct":-1.64},
{"date":"2021-12-29","pair":"GBPUSD=X","pct":-1.34},
{"date":"2021-12-30","pair":"GBPUSD=X","pct":-0.97}
]
},
"data": {"name": "fx"},
"layer": [
{
"data": {"name": "months"},
"mark": {"type": "rect", "color": "#f5f5f5"},
"encoding": {
"x": {"field": "start", "type": "temporal", "title": null,
"scale": {"type": "utc", "domain": [{"year": 2021, "month": 1, "date": 1, "utc": true}, {"year": 2022, "month": 1, "date": 1, "utc": true}]},
"axis": {"orient": "bottom", "grid": false, "tickCount": {"interval": "month", "step": 1},
"labelExpr": "utcFormat(datum.value, '%m') == '01' ? (utcFormat(datum.value, '%Y') == '2021' ? '21' : '20') : utcFormat(datum.value, '%b')",
"labelFlush": true, "labelOverlap": false, "labelFont": "Liberation Sans", "labelFontSize": 19, "labelPadding": 4,
"labelColor": {"condition": {"test": "utcFormat(datum.value, '%m') == '01'", "value": "#232a31"}, "value": "#5b636a"},
"labelFontWeight": {"condition": {"test": "utcFormat(datum.value, '%m') == '01'", "value": "bold"}, "value": "normal"},
"tickSize": 6, "tickColor": "#d3d6da", "domainColor": "#d3d6da", "domainWidth": 1.5}},
"x2": {"field": "end"}
}
},
{
"data": {"values": [{"brand": "yahoo!finance"}]},
"mark": {"type": "text", "align": "right", "baseline": "alphabetic", "font": "Lato", "fontSize": 49, "fontWeight": 900, "color": "#e0e3e7"},
"encoding": {
"x": {"datum": {"year": 2021, "month": 12, "date": 21, "utc": true}, "type": "temporal"},
"y": {"datum": 2.9, "type": "quantitative"},
"text": {"field": "brand"}
}
},
{
"mark": {"type": "line", "strokeWidth": 2.4, "strokeJoin": "round"},
"encoding": {
"x": {"field": "date", "type": "temporal", "title": null},
"y": {"field": "pct", "type": "quantitative", "title": null,
"scale": {"domain": [-11.4, 5.13], "nice": false, "zero": false},
"axis": {"orient": "right", "values": [-10, -5, 0], "grid": true, "gridColor": "#e6e6e6",
"labelExpr": "replace(format(datum.value, '.2f'), '\u2212', '-') + '%'",
"labelFont": "Liberation Sans", "labelFontSize": 19, "labelColor": "#5b636a", "labelPadding": 4,
"tickSize": 4, "tickColor": "#c9cdd2", "domainColor": "#d3d6da", "domainWidth": 1.5}},
"color": {"field": "pair", "type": "nominal",
"scale": {"domain": ["AUDUSD=X", "EURUSD=X", "JPYUSD=X", "SGDUSD=X", "GBPUSD=X"], "range": ["#ff7fc2", "#66d0ff", "#a962f7", "#ffb066", "#ffe07f"]},
"legend": {"orient": "top-left", "direction": "horizontal", "columns": 5, "title": null, "offset": 15,
"padding": 0.01, "fillColor": "#ffffff", "cornerRadius": 4,
"symbolType": "M-0.92,-1L-0.92,1", "symbolSize": 1369, "symbolStrokeWidth": 5,
"labelFont": "Liberation Sans", "labelFontSize": 17.5, "labelColor": "#464e56", "labelOffset": -27, "labelLimit": 400,
"columnPadding": 10,
"labelExpr": "datum.label == 'AUDUSD=X' ? 'AUDUSD=X\u00a0\u00a00.7767' : datum.label == 'EURUSD=X' ? 'EURUSD=X\u00a0\u00a01.2045\u00a0\u00a0\u2009\u00d7' : datum.label == 'JPYUSD=X' ? 'JPYUSD=X\u00a0\u00a00.0093\u00a0\u00a0\u2009\u00d7' : datum.label == 'SGDUSD=X' ? 'SGDUSD=X\u00a0\u00a00.7523\u00a0\u00a0\u2009\u00d7' : 'GBPUSD=X\u00a0\u00a01.3994\u00a0\u00a0\u2009\u00d7'"}}
}
},
{
"data": {"values": [{"part": "zoom"}]},
"mark": {"type": "rect", "fill": "#ffffff", "fillOpacity": 0.9, "stroke": "#e3e3e3", "strokeWidth": 1, "cornerRadius": 5},
"encoding": {
"x": {"datum": {"year": 2021, "month": 6, "date": 20, "utc": true}, "type": "temporal"},
"x2": {"datum": {"year": 2021, "month": 7, "date": 20, "utc": true}},
"y": {"datum": -8.06, "type": "quantitative"},
"y2": {"datum": -10.19}
}
},
{
"data": {"values": [{"part": "divider"}]},
"mark": {"type": "rule", "color": "#d8d8d8", "strokeWidth": 1.5},
"encoding": {
"x": {"datum": {"year": 2021, "month": 7, "date": 5, "utc": true}, "type": "temporal"},
"y": {"datum": -8.4, "type": "quantitative"},
"y2": {"datum": -9.85}
}
},
{
"data": {"values": [{"glyph": "\u2212", "day": 27, "month": 6}, {"glyph": "+", "day": 12, "month": 7}]},
"transform": [{"calculate": "datetime(2021, datum.month - 1, datum.day)", "as": "at"}],
"mark": {"type": "text", "align": "center", "baseline": "middle", "font": "Liberation Sans", "fontSize": 30, "fontWeight": "bold", "color": "#6f6f6f"},
"encoding": {
"x": {"field": "at", "type": "temporal", "title": null},
"y": {"datum": -9.1, "type": "quantitative"},
"text": {"field": "glyph"}
}
},
{
"transform": [
{"joinaggregate": [{"op": "max", "field": "date", "as": "last"}], "groupby": ["pair"]},
{"filter": "time(datum.date) == time(datum.last) && datum.pair != 'JPYUSD=X'"}
],
"mark": {"type": "rect", "width": 73, "height": 27, "cornerRadius": 3, "xOffset": 41.5, "clip": false},
"encoding": {
"x": {"field": "date", "type": "temporal", "title": null},
"y": {"field": "pct", "type": "quantitative", "title": null},
"fill": {"field": "pair", "type": "nominal", "legend": null,
"scale": {"domain": ["AUDUSD=X", "EURUSD=X", "JPYUSD=X", "SGDUSD=X", "GBPUSD=X"], "range": ["#ff333a", "#6fd2fd", "#b26ef9", "#ffb86e", "#ffe27e"]}}
}
},
{
"transform": [
{"joinaggregate": [{"op": "max", "field": "date", "as": "last"}], "groupby": ["pair"]},
{"filter": "time(datum.date) == time(datum.last) && datum.pair == 'JPYUSD=X'"}
],
"mark": {"type": "rect", "width": 83, "height": 27, "cornerRadius": 3, "xOffset": 46.5, "clip": false},
"encoding": {
"x": {"field": "date", "type": "temporal", "title": null},
"y": {"field": "pct", "type": "quantitative", "title": null},
"fill": {"field": "pair", "type": "nominal", "legend": null}
}
},
{
"transform": [
{"joinaggregate": [{"op": "max", "field": "date", "as": "last"}], "groupby": ["pair"]},
{"filter": "time(datum.date) == time(datum.last)"},
{"calculate": "replace(format(datum.pct, '.2f'), '\u2212', '-') + '%'", "as": "tag"}
],
"mark": {"type": "text", "align": "left", "baseline": "middle", "dx": 12, "font": "Liberation Sans", "fontSize": 19},
"encoding": {
"x": {"field": "date", "type": "temporal", "title": null},
"y": {"field": "pct", "type": "quantitative", "title": null},
"text": {"field": "tag"},
"color": {"condition": {"test": "datum.pair == 'AUDUSD=X'", "value": "#ffffff"}, "value": "#111111"}
}
},
{
"transform": [
{"joinaggregate": [{"op": "max", "field": "date", "as": "last"}], "groupby": ["pair"]},
{"filter": "time(datum.date) == time(datum.last) && datum.pair == 'AUDUSD=X'"}
],
"mark": {"type": "point", "filled": true, "size": 90, "opacity": 1, "color": "#0f69ff", "xOffset": 3.5, "clip": false},
"encoding": {
"x": {"field": "date", "type": "temporal", "title": null},
"y": {"field": "pct", "type": "quantitative", "title": null}
}
}
]
}
